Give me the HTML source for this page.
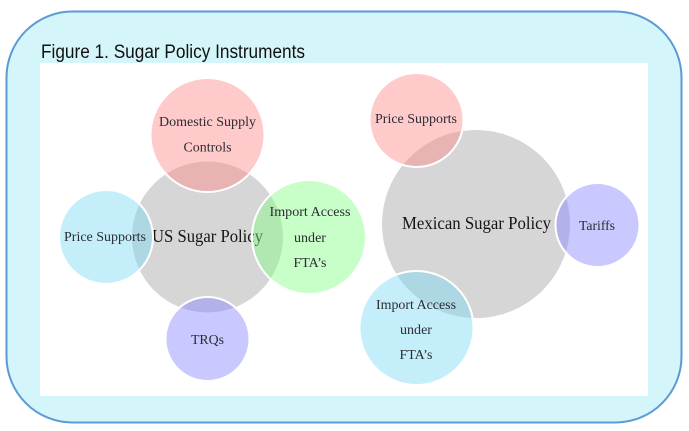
<!DOCTYPE html>
<html lang="en">
<head>
<meta charset="utf-8">
<title>Figure 1. Sugar Policy Instruments</title>
<style>
html,body{margin:0;padding:0;background:#fff;width:689px;height:431px;overflow:hidden}
svg{display:block}
.s{font-family:"Liberation Serif",serif;font-size:14px;fill:#2c2c33;text-anchor:middle}
.b{font-family:"Liberation Serif",serif;font-size:17.5px;fill:#151515;text-anchor:middle}
.t{font-family:"Liberation Sans",sans-serif;font-size:19px;fill:#111}
.c{stroke:#fff;stroke-width:2;fill-opacity:.44}
.soft{filter:blur(.35px)}
</style>
</head>
<body>
<svg width="689" height="431" viewBox="0 0 689 431">
  <rect x="6.5" y="11.5" width="675" height="411" rx="66" ry="66" fill="#d4f5f9" stroke="#5b9bd5" stroke-width="2"/>
  <rect x="40" y="63" width="608" height="333" fill="#fff"/>
  <text class="t" x="41" y="58" textLength="264" lengthAdjust="spacingAndGlyphs">Figure 1. Sugar Policy Instruments</text>

  <g class="soft">
    <circle cx="207.5" cy="237" r="75.5" fill="#d6d6d6"/>
    <text class="b" x="207.5" y="242" textLength="111" lengthAdjust="spacingAndGlyphs">US Sugar Policy</text>
    <circle class="c" cx="207.5" cy="135" r="57" fill="rgb(255,134,134)"/>
    <circle class="c" cx="106" cy="237" r="47" fill="rgb(123,216,246)"/>
    <circle class="c" cx="309" cy="237" r="57" fill="rgb(130,255,130)"/>
    <circle class="c" cx="207.5" cy="339" r="42" fill="rgb(132,132,255)"/>
    <text class="s" x="207.5" y="126" textLength="97" lengthAdjust="spacingAndGlyphs">Domestic Supply</text>
    <text class="s" x="207.5" y="151.500" textLength="48" lengthAdjust="spacingAndGlyphs">Controls</text>
    <text class="s" x="105" y="241" textLength="82" lengthAdjust="spacingAndGlyphs">Price Supports</text>
    <text class="s" x="310" y="216" textLength="81" lengthAdjust="spacingAndGlyphs">Import Access</text>
    <text class="s" x="310" y="242" textLength="32" lengthAdjust="spacingAndGlyphs">under</text>
    <text class="s" x="310" y="267" textLength="33" lengthAdjust="spacingAndGlyphs">FTA’s</text>
    <text class="s" x="207.5" y="344" textLength="33" lengthAdjust="spacingAndGlyphs">TRQs</text>
  </g>

  <g class="soft">
    <circle cx="476" cy="224" r="94" fill="#d6d6d6"/>
    <text class="b" x="476.500" y="229" textLength="149" lengthAdjust="spacingAndGlyphs">Mexican Sugar Policy</text>
    <circle class="c" cx="416.5" cy="120" r="47" fill="rgb(255,134,134)"/>
    <circle class="c" cx="597.5" cy="225" r="42" fill="rgb(132,132,255)"/>
    <circle class="c" cx="416.5" cy="328" r="57" fill="rgb(123,216,246)"/>
    <text class="s" x="416" y="123" textLength="82" lengthAdjust="spacingAndGlyphs">Price Supports</text>
    <text class="s" x="597" y="230" textLength="36" lengthAdjust="spacingAndGlyphs">Tariffs</text>
    <text class="s" x="416" y="309" textLength="80" lengthAdjust="spacingAndGlyphs">Import Access</text>
    <text class="s" x="416" y="334" textLength="32" lengthAdjust="spacingAndGlyphs">under</text>
    <text class="s" x="416" y="359" textLength="33" lengthAdjust="spacingAndGlyphs">FTA’s</text>
  </g>
</svg>
</body>
</html>
